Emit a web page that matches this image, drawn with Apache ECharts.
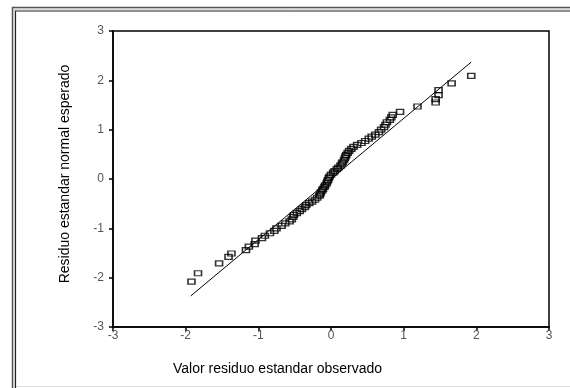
<!DOCTYPE html>
<html>
<head>
<meta charset="utf-8">
<script src="https://cdn.jsdelivr.net/npm/echarts@6/dist/echarts.min.js"></script>
<style>
  html, body { margin: 0; padding: 0; background: #fff; }
  #chart { width: 570px; height: 388px; }
</style>
</head>
<body>
<div id="chart"></div>
<script>
// observed standardized residuals (x) and expected normal scores (y)
const observado = [
  -1.92, -1.83, -1.54, -1.41, -1.37, -1.17, -1.13, -1.05, -1.04, -0.95,
  -0.91, -0.84, -0.78, -0.75, -0.68, -0.63, -0.57, -0.54, -0.52, -0.51,
  -0.47, -0.43, -0.40, -0.36, -0.34, -0.30, -0.26, -0.22, -0.19, -0.16,
  -0.15, -0.14, -0.12, -0.11, -0.09, -0.08, -0.06, -0.05, -0.04,
  -0.03, -0.02, 0.00, 0.03, 0.05, 0.08, 0.10, 0.13, 0.15, 0.16,
  0.18, 0.19, 0.20, 0.21, 0.23, 0.25, 0.28, 0.31, 0.36, 0.42,
  0.47, 0.52, 0.56, 0.61, 0.66, 0.69, 0.73, 0.75, 0.77, 0.81,
  0.83, 0.85, 0.95, 1.19, 1.44, 1.44, 1.48, 1.48, 1.66, 1.93
];
const esperado = [
  -2.08, -1.91, -1.71, -1.58, -1.51, -1.44, -1.37, -1.32, -1.25, -1.20,
  -1.15, -1.10, -1.05, -1.00, -0.95, -0.90, -0.86, -0.82, -0.77, -0.73,
  -0.69, -0.65, -0.61, -0.57, -0.53, -0.49, -0.46, -0.42, -0.38, -0.34,
  -0.31, -0.27, -0.23, -0.20, -0.16, -0.13, -0.09, -0.05, -0.02,
  0.02, 0.05, 0.09, 0.13, 0.16, 0.20, 0.23, 0.27, 0.31, 0.34,
  0.38, 0.42, 0.46, 0.49, 0.53, 0.57, 0.61, 0.65, 0.69, 0.73,
  0.77, 0.82, 0.86, 0.90, 0.95, 1.00, 1.05, 1.10, 1.15, 1.20,
  1.25, 1.30, 1.36, 1.47, 1.55, 1.62, 1.70, 1.80, 1.94, 2.09
];
// reference line end points
const lineaX = [-1.93, 1.93];
const lineaY = [-2.37, 2.37];

const puntos = observado.map((v, i) => [v, esperado[i]]);
const linea = lineaX.map((v, i) => [v, lineaY[i]]);

const myChart = echarts.init(document.getElementById('chart'));
const font = 'Liberation Sans, Arial, sans-serif';

const option = {
  animation: false,
  backgroundColor: '#fff',
  grid: {
    left: 113, right: 21, top: 31, bottom: 61,
    show: true, borderColor: '#000', borderWidth: 1.5
  },
  xAxis: {
    type: 'value', min: -3, max: 3, interval: 1,
    axisLine: { onZero: false, lineStyle: { color: '#000', width: 1.5 } },
    axisTick: { show: true, inside: false, length: 4, lineStyle: { color: '#000', width: 1.5 } },
    splitLine: { show: false },
    axisLabel: { color: '#555', fontSize: 12, fontFamily: font, margin: 3 }
  },
  yAxis: {
    type: 'value', min: -3, max: 3, interval: 1,
    axisLine: { onZero: false, lineStyle: { color: '#000', width: 1.5 } },
    axisTick: { show: true, inside: false, length: 4, lineStyle: { color: '#000', width: 1.5 } },
    splitLine: { show: false },
    axisLabel: { color: '#555', fontSize: 12, fontFamily: font, margin: 9 }
  },
  graphic: [
    { type: 'rect', silent: true, shape: { x: 12.5, y: 7.5, width: 600, height: 400 },
      style: { fill: 'none', stroke: '#555', lineWidth: 1.5 } },
    { type: 'rect', silent: true, shape: { x: 15.5, y: 11, width: 600, height: 400 },
      style: { fill: 'none', stroke: '#222', lineWidth: 1.2 } },
    { type: 'rect', silent: true, shape: { x: 14, y: 9, width: 600, height: 400 },
      style: { fill: 'none', stroke: '#bbb', lineWidth: 1 } },
    { type: 'line', silent: true, shape: { x1: 16, y1: 386.5, x2: 570, y2: 386.5 },
      style: { stroke: '#ddd', lineWidth: 1 } },
    { type: 'text', left: 173, top: 362,
      style: { text: 'Valor residuo estandar observado', fontSize: 14, fontFamily: font, fill: '#000' } },
    { type: 'text', x: 65, y: 174, rotation: Math.PI / 2,
      style: { text: 'Residuo estandar normal esperado', fontSize: 14, fontFamily: font, fill: '#000',
        align: 'center', verticalAlign: 'middle' } }
  ],
  series: [
    {
      type: 'line',
      data: linea,
      symbol: 'none',
      lineStyle: { color: '#000', width: 1 },
      z: 2
    },
    {
      type: 'scatter',
      data: puntos,
      symbol: 'rect',
      symbolSize: [7, 5],
      itemStyle: { color: 'rgba(0,0,0,0)', borderColor: '#000', borderWidth: 1.4 },
      z: 3
    }
  ]
};
myChart.setOption(option, true);
window.addEventListener('resize', function () {
  myChart.resize();
});
</script>
</body>
</html>
